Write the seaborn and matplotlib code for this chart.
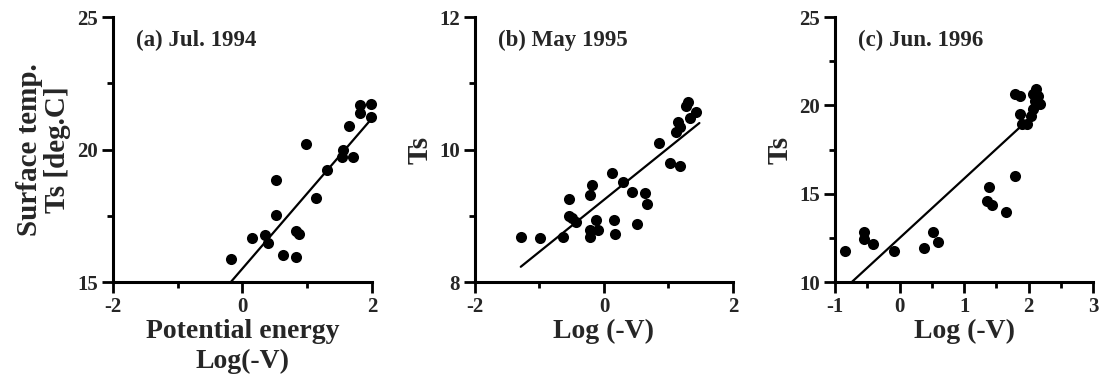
import matplotlib
matplotlib.use("Agg")
import matplotlib.pyplot as plt
import seaborn as sns
import numpy as np
import pandas as pd
from matplotlib.ticker import MultipleLocator, FixedLocator

# ---- data ----
a_x = [-0.18, 0.15, 0.34, 0.39, 0.52, 0.52, 0.63, 0.82, 0.88, 0.83, 0.98, 1.13,
       1.30, 1.55, 1.53, 1.71, 1.65, 1.82, 1.81, 1.98, 1.98]
a_y = [15.86, 16.66, 16.76, 16.46, 17.53, 18.84, 16.02, 16.94, 16.81, 15.95, 20.22, 18.16,
       19.21, 19.98, 19.73, 19.73, 20.89, 21.68, 21.39, 21.72, 21.22]
a_line_x = [-0.18, 2.0]
a_line_y = [15.0, 21.18]

b_x = [-1.29, -0.99, -0.63, -0.54, -0.54, -0.49, -0.44, -0.21, -0.19, -0.22, -0.21,
       -0.09, -0.12, 0.12, 0.16, 0.17, 0.29, 0.44, 0.51, 0.64, 0.66, 0.85, 1.03, 1.18,
       1.12, 1.15, 1.18, 1.33, 1.27, 1.30, 1.43]
b_y = [8.68, 8.67, 8.68, 9.25, 9.00, 8.96, 8.91, 9.31, 9.46, 8.68, 8.78,
       8.78, 8.94, 9.64, 8.94, 8.72, 9.51, 9.36, 8.88, 9.35, 9.18, 10.10, 9.79, 9.75,
       10.27, 10.42, 10.34, 10.47, 10.65, 10.72, 10.56]
b_line_x = [-1.29, 1.48]
b_line_y = [8.23, 10.40]

c_x = [-0.85, -0.55, -0.55, -0.41, -0.08, 0.38, 0.51, 0.60, 1.38, 1.35, 1.43, 1.65,
       1.78, 1.79, 1.87, 1.86, 1.89, 1.97, 2.12, 2.15, 2.10, 2.07, 2.17, 2.04, 2.07]
c_y = [11.75, 12.85, 12.43, 12.18, 11.75, 11.90, 12.85, 12.28, 15.36, 14.56, 14.37, 13.95,
       15.99, 20.65, 20.55, 19.50, 18.94, 18.94, 20.93, 20.55, 20.27, 19.79, 20.08, 19.41, 20.65]
c_line_x = [-0.74, 1.95]
c_line_y = [10.0, 19.05]

titles = ["(a) Jul. 1994", "(b) May 1995", "(c) Jun. 1996"]
xlabels = ["Potential energy\nLog(-V)", "Log (-V)", "Log (-V)"]
ylabels = ["Surface temp.\nTs [deg.C]", "Ts", "Ts"]

sns.set_style("ticks")
plt.rcParams["font.family"] = ["Liberation Serif", "DejaVu Serif"]
plt.rcParams["font.weight"] = "bold"
plt.rcParams["axes.unicode_minus"] = False

fig = plt.figure(figsize=(11, 3.81), dpi=100)
boxes = [[0.1027, 0.2598, 0.2355, 0.6955],
         [0.4318, 0.2598, 0.2345, 0.6955],
         [0.7591, 0.2598, 0.2348, 0.6955]]
axes = [fig.add_axes(b) for b in boxes]

panels = [
    dict(x=a_x, y=a_y, lx=a_line_x, ly=a_line_y, xlim=(-2, 2), ylim=(15, 25),
         xmaj=[-2, 0, 2], xmin=1, ymaj=[15, 20, 25], ymin=2.5),
    dict(x=b_x, y=b_y, lx=b_line_x, ly=b_line_y, xlim=(-2, 2), ylim=(8, 12),
         xmaj=[-2, 0, 2], xmin=1, ymaj=[8, 10, 12], ymin=1),
    dict(x=c_x, y=c_y, lx=c_line_x, ly=c_line_y, xlim=(-1, 3), ylim=(10, 25),
         xmaj=[-1, 0, 1, 2, 3], xmin=0.5, ymaj=[10, 15, 20, 25], ymin=2.5),
]

for i, (ax, p) in enumerate(zip(axes, panels)):
    df = pd.DataFrame({"x": p["x"], "y": p["y"]})
    ln = pd.DataFrame({"x": p["lx"], "y": p["ly"]})
    sns.lineplot(data=ln, x="x", y="y", ax=ax, color="black", lw=1.6, zorder=2)
    sns.scatterplot(data=df, x="x", y="y", ax=ax, color="black", s=64,
                    edgecolor="black", linewidth=0, zorder=3, clip_on=False)
    ax.set_xlim(*p["xlim"])
    ax.set_ylim(*p["ylim"])
    ax.xaxis.set_major_locator(FixedLocator(p["xmaj"]))
    ax.xaxis.set_minor_locator(MultipleLocator(p["xmin"]))
    ax.yaxis.set_major_locator(FixedLocator(p["ymaj"]))
    ax.yaxis.set_minor_locator(MultipleLocator(p["ymin"]))
    ax.tick_params(axis="both", which="major", length=8, width=2, direction="out",
                   labelsize=15, pad=3, color="black")
    ax.tick_params(axis="both", which="minor", length=4, width=2, direction="out",
                   color="black")
    for lab in ax.get_xticklabels() + ax.get_yticklabels():
        lab.set_fontweight("bold")
    for s in ["top", "right"]:
        ax.spines[s].set_visible(False)
    for s in ["left", "bottom"]:
        ax.spines[s].set_linewidth(2.2)
        ax.spines[s].set_color("black")
    ax.set_xlabel(xlabels[i], fontsize=20, fontweight="bold", labelpad=1,
                  linespacing=1.25)
    ax.set_ylabel(ylabels[i], fontsize=21, fontweight="bold", labelpad=4,
                  linespacing=1.05)
    ax.text(0.09, 0.91, titles[i], transform=ax.transAxes, fontsize=16.5,
            fontweight="bold", ha="left", va="center")

fig.savefig("out.png", dpi=100, facecolor="white")
